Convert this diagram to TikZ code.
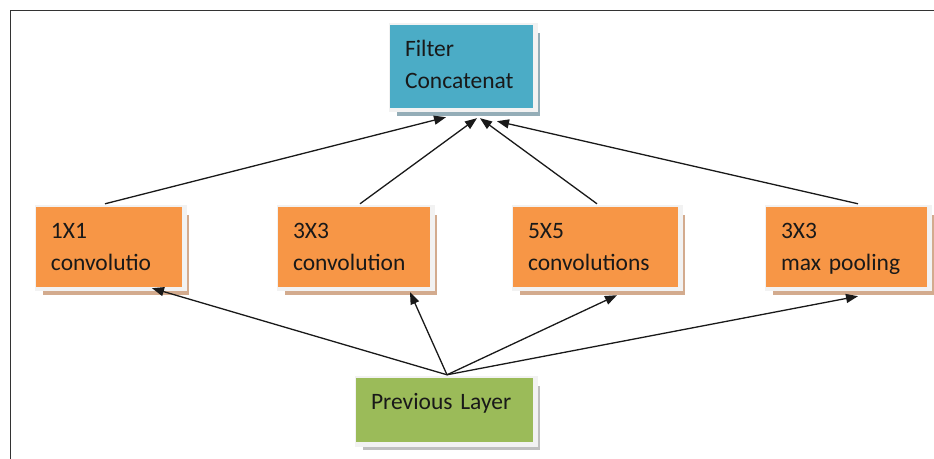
\documentclass[tikz,border=0pt]{standalone}
\usepackage{fontspec}
\setmainfont{Carlito}
\usetikzlibrary{arrows.meta}
\hyphenpenalty=10000

\definecolor{convorange}{HTML}{F79646}
\definecolor{filterblue}{HTML}{4BACC6}
\definecolor{layergreen}{HTML}{9BBB59}
\definecolor{frame}{HTML}{F2F2F2}
\definecolor{tanshade}{HTML}{D3AB8E}
\definecolor{blueshade}{HTML}{94ADB7}
\definecolor{grayshade}{HTML}{BFBFBF}

\tikzset{
  stage/.style={rectangle, inner xsep=15bp, inner ysep=0pt, align=left,
    text=black!90, font=\fontsize{23.5bp}{32bp}\selectfont,
    preaction={fill=#1, transform canvas={shift={(7bp,-8bp)}}},
    preaction={fill=frame, draw=frame, line width=6bp, transform canvas={shift={(2bp,-1.5bp)}}}},
  conv/.style={stage=tanshade, fill=convorange, text height=32bp, text depth=48bp},
  arr/.style={-{Triangle[length=12bp,width=9bp]}, line width=1.3bp, black!90}
}

\begin{document}
\begin{tikzpicture}[x=1bp, y=-1bp]
\useasboundingbox (0,0) rectangle (934,459);
%outer frame
\draw[line width=1.5bp, black!80] (934,10.3) -- (10.3,10.3) -- (10.3,459);

\node[stage=blueshade, fill=filterblue, text width=113bp, text height=32bp, text depth=51bp] (filter) at (461.5,66.5) {Filter\\Concatenat};

\node[conv, text width=116bp] (c1) at (109,247) {1X1\\convolutio};
\node[conv, text width=122bp] (c3) at (354,247) {3X3\\convolution};
\node[conv, text width=135bp] (c5) at (595.5,247) {5X5\\convolutions};
\node[conv, text width=131bp] (pool) at (846.5,247) {3X3\\max pooling};

\node[stage=grayshade, fill=layergreen, text width=147bp, text height=31bp, text depth=33bp] (prev) at (444.5,410) {Previous Layer};

%into the concatenation
\foreach \src/\dx/\ex/\ey in {c1/-4/-15.5/-9, c3/6/15.5/-10, c5/1.5/18.5/-10, pool/11.5/35.5/-13}
  \draw[arr] ([xshift=\dx bp, yshift=3bp]\src.north) -- ([xshift=\ex bp, yshift=\ey bp]filter.south);

%out of the previous layer
\foreach \dst/\dx/\dy in {c1/43/-1, c3/56/-5, c5/21.5/-8, pool/11.5/-9}
  \draw[arr] ([xshift=2.5bp, yshift=3bp]prev.north) -- ([xshift=\dx bp, yshift=\dy bp]\dst.south);

\end{tikzpicture}
\end{document}
